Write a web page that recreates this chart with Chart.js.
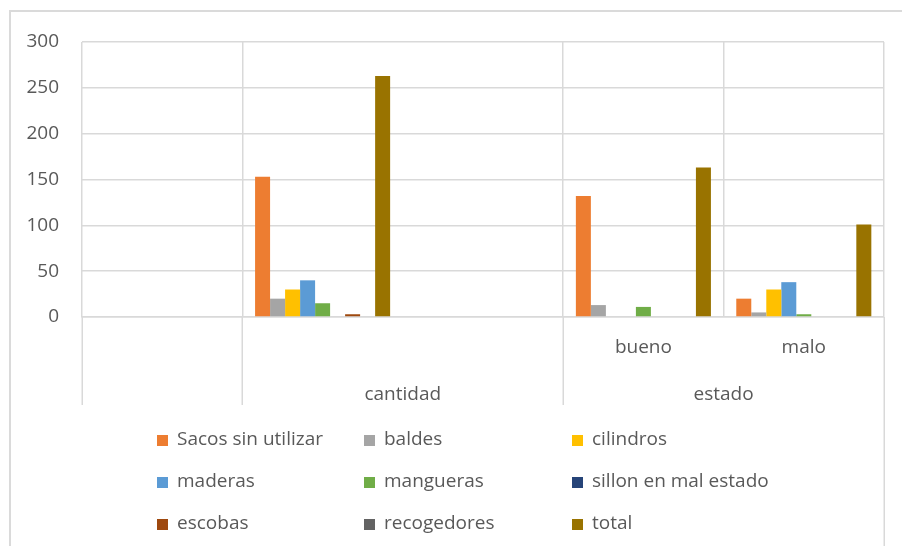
<!DOCTYPE html>
<html>
<head>
<meta charset="utf-8">
<script src="https://cdn.jsdelivr.net/npm/chart.js@4"></script>
<style>
  body { margin: 0; background: #fff; }
  #wrap { position: relative; width: 902px; height: 546px; overflow: hidden; background: #fff; }
  #frame { position: absolute; left: 9px; top: 10px; right: -4px; bottom: -4px; border-top: 2px solid #dadada; border-left: 2px solid #dadada; pointer-events: none; }
  .box { position: absolute; width: 11px; height: 11px; }
  .txt { position: absolute; font-family: "Open Sans"; font-size: 19px; line-height: 22px; color: #595959; white-space: nowrap; }
</style>
</head>
<body>
<div id="wrap">
  <canvas id="myChart" width="902" height="546"></canvas>
  <div id="frame"></div>
  <div id="legend"></div>
</div>
<script>
// datos del grafico
const categories = ['', '', '', 'bueno', 'malo'];
const groupLabels = ['cantidad', 'estado'];
const groupStart = [1, 3];
const groupEnd = [2, 4];

const seriesNames = ['Sacos sin utilizar', 'baldes', 'cilindros', 'maderas', 'mangueras',
  'sillon en mal estado', 'escobas', 'recogedores', 'total'];
const sacos = [null, 153, null, 132, 20];
const baldes = [null, 20, null, 13, 5];
const cilindros = [null, 30, null, 0, 30];
const maderas = [null, 40, null, 0, 38];
const mangueras = [null, 15, null, 11, 3];
const sillon = [null, 0, null, 0, 0];
const escobas = [null, 3, null, 0, 0];
const recogedores = [null, 0, null, 0, 0];
const total = [null, 263, null, 163, 101];
const seriesValues = [sacos, baldes, cilindros, maderas, mangueras, sillon, escobas, recogedores, total];
const seriesColors = ['#ED7D31', '#A5A5A5', '#FFC000', '#5B9BD5', '#70AD47', '#264478', '#9E480E', '#636363', '#997300'];
const yTicks = [0, 50, 100, 150, 200, 250, 300];

const gridColor = '#d9d9d9';
const textColor = '#595959';
const fontFam = 'Open Sans';

function groupOf(i) {
    for (let g = 0; g < groupLabels.length; g++) {
        if (i >= groupStart[g] && i <= groupEnd[g]) return g;
    }
    return -1;
}

// lineas y etiquetas del segundo nivel del eje x
const groupAxis = {
    id: 'groupAxis',
    afterDraw(chart) {
        const ctx = chart.ctx;
        const x = chart.scales.x;
        const area = chart.chartArea;
        let bounds = [-0.5];
        groupLabels.forEach((e, g) => {
            bounds.push(groupStart[g] - 0.5);
            bounds.push(groupEnd[g] + 0.5);
        });
        bounds = [...new Set(bounds)];
        const last = Math.max(...bounds);
        ctx.save();
        ctx.strokeStyle = gridColor;
        ctx.lineWidth = 1.5;
        bounds.forEach(b => {
            const px = Math.round(x.getPixelForValue(b)) + 0.25;
            ctx.beginPath();
            ctx.moveTo(px, area.bottom);
            ctx.lineTo(px, b === last ? chart.height : area.bottom + 88);
            ctx.stroke();
        });
        ctx.fillStyle = textColor;
        ctx.font = '19px "' + fontFam + '"';
        ctx.textAlign = 'center';
        ctx.textBaseline = 'alphabetic';
        groupLabels.forEach((e, g) => {
            const mid = (groupStart[g] + groupEnd[g]) / 2;
            ctx.fillText(e, x.getPixelForValue(mid), area.bottom + 83);
        });
        ctx.restore();
    }
};

function buildLegend(chart) {
    const legend = document.getElementById('legend');
    const colLeft = [157, 364, 572];
    const rowBase = [445, 487, 529];
    chart.data.datasets.forEach((ds, i) => {
        const col = i % 3;
        const row = Math.floor(i / 3);
        legend.innerHTML += `<div class="box" style="left:${colLeft[col]}px;top:${rowBase[row] - 10}px;background:${ds.backgroundColor}"></div>
            <div class="txt" style="left:${colLeft[col] + 20}px;top:${rowBase[row] - 18}px">${ds.label}</div>`;
    });
}

function draw() {
    const ctx = document.getElementById('myChart');
    const myChart = new Chart(ctx, {
        type: 'bar',
        data: {
            labels: categories,
            datasets: seriesNames.map((n, i) => ({
                label: n,
                data: seriesValues[i],
                backgroundColor: seriesColors[i],
                borderWidth: 0,
                categoryPercentage: 0.842,
                barPercentage: 1
            }))
        },
        options: {
            responsive: false,
            animation: false,
            layout: { padding: { left: 0, right: 18, top: 42, bottom: 0 } },
            plugins: {
                legend: { display: false },
                tooltip: { enabled: false }
            },
            scales: {
                x: {
                    offset: true,
                    grid: {
                        offset: true,
                        lineWidth: 1.5,
                        drawTicks: false,
                        color: c => {
                            const i = c.index;
                            if (i !== undefined && i > 0 && categories[i] === '' && groupOf(i) !== -1 && groupOf(i) === groupOf(i - 1)) {
                                return 'rgba(0,0,0,0)';
                            }
                            return gridColor;
                        }
                    },
                    border: { color: gridColor, width: 1.5 },
                    ticks: {
                        font: { family: fontFam, size: 19 },
                        color: textColor,
                        padding: 19,
                        maxRotation: 0,
                        autoSkip: false
                    },
                    afterFit: s => { s.height = 229; }
                },
                y: {
                    min: yTicks[0],
                    max: yTicks[yTicks.length - 1],
                    afterBuildTicks: s => { s.ticks = yTicks.map(v => ({ value: v })); },
                    grid: { color: gridColor, lineWidth: 1.5, drawTicks: false },
                    border: { display: false },
                    ticks: {
                        font: { family: fontFam, size: 19 },
                        color: textColor,
                        padding: 23
                    },
                    afterFit: s => { s.width = 82; }
                }
            }
        },
        plugins: [groupAxis]
    });
    buildLegend(myChart);
}

if (document.fonts && document.fonts.load) {
    document.fonts.load('19px "Open Sans"').then(draw, draw);
} else {
    draw();
}
</script>
</body>
</html>
